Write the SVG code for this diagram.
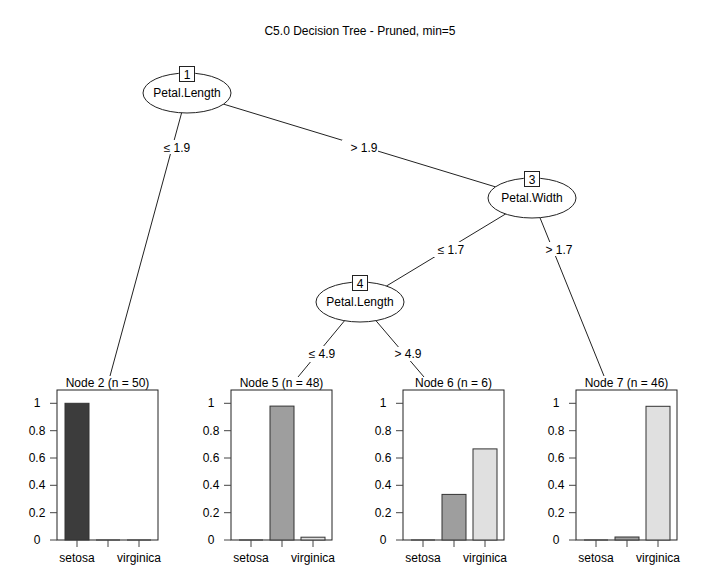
<svg xmlns="http://www.w3.org/2000/svg" width="720" height="576" viewBox="0 0 720 576">
<style>
text{font-family:"Liberation Sans",Arial,sans-serif;font-size:12px;fill:#000}
.m{text-anchor:middle}
.edge{stroke:#222;stroke-width:1;fill:none}
.lbl{fill:#fff;stroke:none}
.ell{fill:#fff;stroke:#222;stroke-width:1}
.idb{fill:#fff;stroke:#222;stroke-width:1}
.frame{fill:none;stroke:#222;stroke-width:1}
.tick{stroke:#444;stroke-width:1}
.bar{stroke:#333;stroke-width:1}
.c1{fill:#3c3c3c}.c2{fill:#9e9e9e}.c3{fill:#e0e0e0}
</style>
<defs>
<g id="yaxis">
<line class="tick" x1="-7" y1="540" x2="0" y2="540"/>
<line class="tick" x1="-7" y1="512.7" x2="0" y2="512.7"/>
<line class="tick" x1="-7" y1="485.3" x2="0" y2="485.3"/>
<line class="tick" x1="-7" y1="458" x2="0" y2="458"/>
<line class="tick" x1="-7" y1="430.7" x2="0" y2="430.7"/>
<line class="tick" x1="-7" y1="403.3" x2="0" y2="403.3"/>
<text class="m" x="-20" y="544">0</text>
<text class="m" x="-20" y="516.7">0.2</text>
<text class="m" x="-20" y="489.3">0.4</text>
<text class="m" x="-20" y="462">0.6</text>
<text class="m" x="-20" y="434.7">0.8</text>
<text class="m" x="-20" y="407.3">1</text>
<line class="tick" x1="20" y1="540" x2="20" y2="547"/>
<line class="tick" x1="51" y1="540" x2="51" y2="547"/>
<line class="tick" x1="82" y1="540" x2="82" y2="547"/>
<text class="m" x="20" y="562">setosa</text>
<text class="m" x="82" y="562">virginica</text>
</g>
</defs>
<text class="m" x="360" y="35">C5.0 Decision Tree - Pruned, min=5</text>
<g id="connectors">
<line class="edge" x1="187" y1="93" x2="110" y2="376"/>
<line class="edge" x1="187" y1="93" x2="532" y2="198"/>
<line class="edge" x1="532" y1="198" x2="360" y2="302"/>
<line class="edge" x1="532" y1="198" x2="604" y2="376"/>
<line class="edge" x1="360" y1="302" x2="298" y2="377"/>
<line class="edge" x1="360" y1="302" x2="424" y2="377"/>
<rect class="lbl" x="161" y="140" width="32" height="14"/>
<text class="m" x="177" y="152">≤ 1.9</text>
<rect class="lbl" x="342" y="140" width="36" height="14"/>
<text class="m" x="364" y="152">&gt; 1.9</text>
<rect class="lbl" x="434" y="242" width="32" height="15"/>
<text class="m" x="451" y="254">≤ 1.7</text>
<rect class="lbl" x="543" y="242" width="32" height="14"/>
<text class="m" x="559" y="254">&gt; 1.7</text>
<rect class="lbl" x="305" y="346" width="34" height="16"/>
<text class="m" x="322" y="358">≤ 4.9</text>
<rect class="lbl" x="392" y="347" width="32" height="14"/>
<text class="m" x="408" y="358">&gt; 4.9</text>
</g>
<g id="node1">
<ellipse class="ell" cx="187" cy="93" rx="44" ry="20"/>
<text class="m" x="187" y="97">Petal.Length</text>
<rect class="idb" x="179.5" y="66.5" width="15" height="15"/>
<text class="m" x="187" y="78.5">1</text>
</g>
<g id="node3">
<ellipse class="ell" cx="532" cy="198" rx="44" ry="20"/>
<text class="m" x="532" y="202">Petal.Width</text>
<rect class="idb" x="524.5" y="171.5" width="15" height="15"/>
<text class="m" x="532" y="183.5">3</text>
</g>
<g id="node4">
<ellipse class="ell" cx="360" cy="302" rx="44" ry="20"/>
<text class="m" x="360" y="306">Petal.Length</text>
<rect class="idb" x="352.5" y="275.5" width="15" height="15"/>
<text class="m" x="360" y="287.5">4</text>
</g>
<g id="node2">
<text class="m" x="107.5" y="387">Node 2 (n = 50)</text>
<rect class="frame" x="57" y="390" width="101" height="150"/>
<rect class="bar c1" x="65" y="403.3" width="24" height="136.7"/>
<line class="bar" x1="96" y1="540" x2="120" y2="540"/>
<line class="bar" x1="127" y1="540" x2="151" y2="540"/>
<use href="#yaxis" x="57"/>
</g>
<g id="node5">
<text class="m" x="281.5" y="387">Node 5 (n = 48)</text>
<rect class="frame" x="231" y="390" width="101" height="150"/>
<line class="bar" x1="239" y1="540" x2="263" y2="540"/>
<rect class="bar c2" x="270" y="406.1" width="24" height="133.9"/>
<rect class="bar c3" x="301" y="537.2" width="24" height="2.8"/>
<use href="#yaxis" x="231"/>
</g>
<g id="node6">
<text class="m" x="453.5" y="387">Node 6 (n = 6)</text>
<rect class="frame" x="403" y="390" width="101" height="150"/>
<line class="bar" x1="411" y1="540" x2="435" y2="540"/>
<rect class="bar c2" x="442" y="494.4" width="24" height="45.6"/>
<rect class="bar c3" x="473" y="448.9" width="24" height="91.1"/>
<use href="#yaxis" x="403"/>
</g>
<g id="node7">
<text class="m" x="626.5" y="387">Node 7 (n = 46)</text>
<rect class="frame" x="576" y="390" width="101" height="150"/>
<line class="bar" x1="584" y1="540" x2="608" y2="540"/>
<rect class="bar c2" x="615" y="537" width="24" height="3"/>
<rect class="bar c3" x="646" y="406.3" width="24" height="133.7"/>
<use href="#yaxis" x="576"/>
</g>
</svg>
